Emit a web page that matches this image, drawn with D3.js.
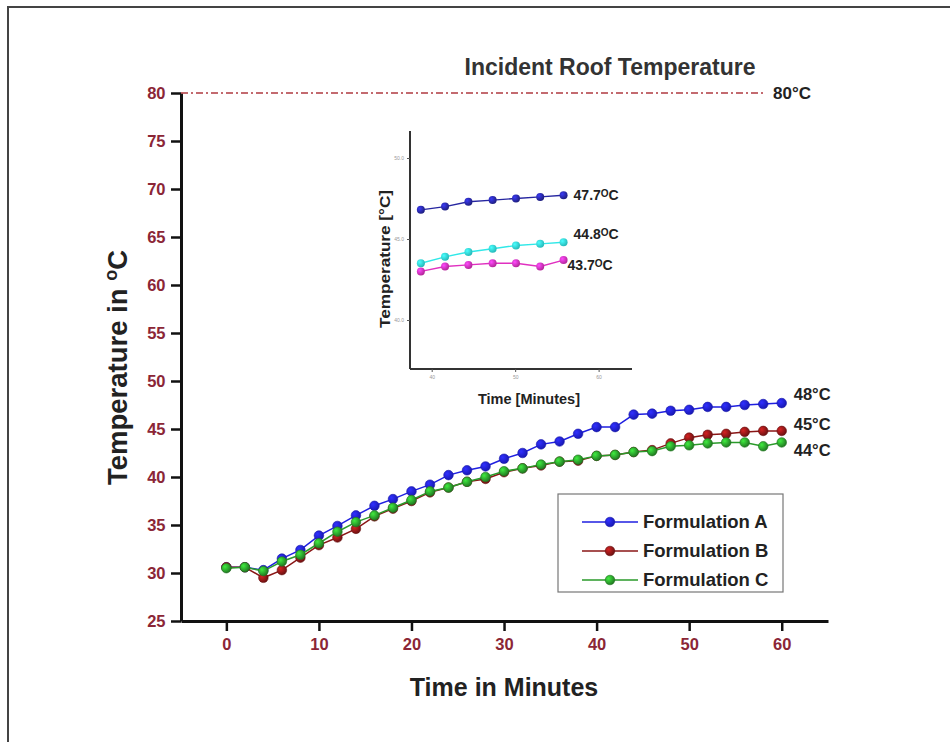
<!DOCTYPE html>
<html>
<head>
<meta charset="utf-8">
<script src="https://cdn.jsdelivr.net/npm/d3@7"></script>
<style>
  body { margin: 0; background: #fff; }
  svg { font-family: "Liberation Sans", Arial, sans-serif; }
</style>
</head>
<body>
<div id="svg-container"></div>
<script>
//////////////////////////////  Data  //////////////////////////////
const times = [0, 2, 4, 6, 8, 10, 12, 14, 16, 18, 20, 22, 24, 26, 28, 30,
  32, 34, 36, 38, 40, 42, 44, 46, 48, 50, 52, 54, 56, 58, 60];
const formulationA = [30.6, 30.6, 30.3, 31.5, 32.4, 33.9, 34.9, 36.0, 37.0, 37.7,
  38.5, 39.2, 40.2, 40.7, 41.1, 41.9, 42.5, 43.4, 43.7, 44.5,
  45.2, 45.2, 46.5, 46.6, 46.9, 47.0, 47.3, 47.3, 47.5, 47.6, 47.7];
const formulationB = [30.6, 30.6, 29.5, 30.3, 31.6, 32.9, 33.7, 34.6, 35.9, 36.7,
  37.5, 38.4, 38.9, 39.5, 39.8, 40.5, 40.9, 41.2, 41.6, 41.7,
  42.2, 42.3, 42.6, 42.8, 43.5, 44.1, 44.4, 44.5, 44.7, 44.8, 44.8];
const formulationC = [30.5, 30.6, 30.2, 31.2, 31.9, 33.1, 34.3, 35.3, 36.0, 36.8,
  37.6, 38.5, 38.9, 39.5, 40.0, 40.6, 40.9, 41.3, 41.6, 41.8,
  42.2, 42.3, 42.6, 42.7, 43.2, 43.3, 43.5, 43.6, 43.6, 43.2, 43.6];
const seriesNames = ["Formulation A", "Formulation B", "Formulation C"];
const endLabels = ["48", "45", "44"];
const xTicks = [0, 10, 20, 30, 40, 50, 60];
const yTicks = [25, 30, 35, 40, 45, 50, 55, 60, 65, 70, 75, 80];
const incidentTemp = 80;

// inset
const insetTimes = [38.7, 41.6, 44.4, 47.3, 50.1, 53.0, 55.8];
const insetBlue = [46.8, 47.0, 47.3, 47.4, 47.5, 47.6, 47.7];
const insetCyan = [43.5, 43.9, 44.2, 44.4, 44.6, 44.7, 44.8];
const insetMagenta = [43.0, 43.3, 43.4, 43.5, 43.5, 43.3, 43.7];
const insetLabels = ["47.7", "44.8", "43.7"];
const insetXTicks = [40, 50, 60];
const insetYTicks = [40, 45, 50];

//////////////////////////////  Init  //////////////////////////////
const width = 950, height = 742;
const margin = { top: 93, right: 122, bottom: 121, left: 181 };

const svg = d3.select("#svg-container").append("svg")
  .attr("width", width).attr("height", height);

const colors = ["#1f1fe0", "#8a1616", "#2a9a2a"];
const tickColor = "#8b2636";

// page frame
svg.append("line").attr("x1", 8).attr("x2", width).attr("y1", 7).attr("y2", 7)
  .attr("stroke", "#444").attr("stroke-width", 2);
svg.append("line").attr("x1", 8).attr("x2", 8).attr("y1", 6).attr("y2", height)
  .attr("stroke", "#444").attr("stroke-width", 2);

// gradients for the ball markers
const defs = svg.append("defs");
colors.concat(["#30e8e8", "#e030c0", "#2626a0"]).forEach((c, i) => {
  const g = defs.append("radialGradient").attr("id", "ball" + i)
    .attr("cx", "35%").attr("cy", "35%").attr("r", "65%");
  g.append("stop").attr("offset", "0%").attr("stop-color", d3.color(c).brighter(1.2));
  g.append("stop").attr("offset", "100%").attr("stop-color", d3.color(c).darker(0.6));
});

// scales
const xScale = d3.scaleLinear().domain([-4.9, 65]).range([margin.left, width - margin.right]);
const yScale = d3.scaleLinear().domain([25, 80]).range([height - margin.bottom, margin.top]);

// axes
const xAxis = d3.axisBottom(xScale).tickValues(xTicks).tickSize(10).tickSizeOuter(0);
const yAxis = d3.axisLeft(yScale).tickValues(yTicks).tickSize(10).tickSizeOuter(0);

const gx = svg.append("g")
  .attr("transform", `translate(0,${height - margin.bottom})`)
  .call(xAxis);
const gy = svg.append("g")
  .attr("transform", `translate(${margin.left},0)`)
  .call(yAxis);

[gx, gy].forEach((g) => {
  g.select(".domain").attr("stroke", "#111").attr("stroke-width", 3);
  g.selectAll(".tick line").attr("stroke", "#111").attr("stroke-width", 2.5);
  g.selectAll(".tick text").attr("fill", tickColor)
    .attr("font-size", 16.5).attr("font-weight", "bold")
    .attr("font-family", "Liberation Sans, Arial, sans-serif");
});
gx.selectAll(".tick text").attr("dy", "0.95em");
gy.selectAll(".tick text").attr("dx", "-0.15em");

// axis titles
svg.append("text")
  .attr("x", xScale(30)).attr("y", 696)
  .attr("text-anchor", "middle").attr("font-size", 25).attr("font-weight", "bold")
  .attr("fill", "#222").text("Time in Minutes");

const yTitle = svg.append("text")
  .attr("transform", `translate(127,${yScale(51.4)}) rotate(-90)`)
  .attr("text-anchor", "middle").attr("font-size", 27.5).attr("font-weight", "bold")
  .attr("fill", "#222");
yTitle.append("tspan").text("Temperature in ");
yTitle.append("tspan").attr("font-size", 18).attr("dy", -10).text("o");
yTitle.append("tspan").attr("dy", 10).text("C");

// incident roof temperature line
svg.append("line")
  .attr("x1", xScale(-4.9)).attr("x2", xScale(58))
  .attr("y1", yScale(incidentTemp)).attr("y2", yScale(incidentTemp))
  .attr("stroke", "#b03a40").attr("stroke-width", 1.3)
  .attr("stroke-dasharray", "7,3,2,3");

svg.append("text")
  .attr("x", 773).attr("y", yScale(incidentTemp) + 6)
  .attr("font-size", 17).attr("font-weight", "bold").attr("fill", "#222")
  .text("80°C");

svg.append("text")
  .attr("x", 610).attr("y", 75)
  .attr("text-anchor", "middle").attr("font-size", 23).attr("font-weight", "bold")
  .attr("fill", "#333").text("Incident Roof Temperature");

// series
const allSeries = [formulationA, formulationB, formulationC];
const line = d3.line().x((d) => xScale(d[0])).y((d) => yScale(d[1]));

allSeries.forEach((vals, i) => {
  const pts = times.map((t, j) => [t, vals[j]]);
  svg.append("path").datum(pts)
    .attr("d", line).attr("fill", "none")
    .attr("stroke", colors[i]).attr("stroke-width", 1.5);
  svg.append("g").selectAll("circle").data(pts).enter().append("circle")
    .attr("cx", (d) => xScale(d[0])).attr("cy", (d) => yScale(d[1]))
    .attr("r", 4.8).attr("fill", `url(#ball${i})`)
    .attr("stroke", d3.color(colors[i]).darker(0.8)).attr("stroke-width", 0.6);
});

// end labels
const endY = [yScale(formulationA[30]) - 3, yScale(formulationB[30]) - 1, yScale(formulationC[30]) + 14];
endLabels.forEach((lab, i) => {
  svg.append("text")
    .attr("x", xScale(61.3)).attr("y", endY[i])
    .attr("font-size", 16.5).attr("font-weight", "bold").attr("fill", "#222")
    .text(lab + "°C");
});

// legend
const legend = svg.append("g").attr("transform", "translate(558,494)");
legend.append("rect").attr("width", 225).attr("height", 98)
  .attr("fill", "#fff").attr("stroke", "#777").attr("stroke-width", 1.2);
seriesNames.forEach((name, i) => {
  const y = 28 + i * 29;
  legend.append("line").attr("x1", 24).attr("x2", 80).attr("y1", y).attr("y2", y)
    .attr("stroke", colors[i]).attr("stroke-width", 1.6);
  legend.append("circle").attr("cx", 52).attr("cy", y).attr("r", 4.8)
    .attr("fill", `url(#ball${i})`)
    .attr("stroke", d3.color(colors[i]).darker(0.8)).attr("stroke-width", 0.6);
  legend.append("text").attr("x", 85).attr("y", y + 6)
    .attr("font-size", 18.5).attr("font-weight", "bold").attr("fill", "#222")
    .text(name);
});

////////////////////////////////////////////////////////////////////
//////////////////////////////  Inset  //////////////////////////////
const ix = d3.scaleLinear().domain([37.4, 64.0]).range([410, 632]);
const iy = d3.scaleLinear().domain([50, 40]).range([158, 320]);
const insetTop = 131, insetBottom = 369;

const inset = svg.append("g");
inset.append("line").attr("x1", 410).attr("x2", 410).attr("y1", insetTop).attr("y2", insetBottom)
  .attr("stroke", "#333").attr("stroke-width", 2);
inset.append("line").attr("x1", 410).attr("x2", 632).attr("y1", insetBottom).attr("y2", insetBottom)
  .attr("stroke", "#333").attr("stroke-width", 2);

inset.append("g").attr("transform", `translate(0,${insetBottom})`)
  .call(d3.axisBottom(ix).tickValues(insetXTicks).tickSize(3).tickSizeOuter(0))
  .call((g) => g.select(".domain").remove())
  .call((g) => g.selectAll(".tick line").attr("stroke", "#555"))
  .call((g) => g.selectAll(".tick text").attr("font-size", 5).attr("fill", "#999"));
inset.append("g").attr("transform", "translate(410,0)")
  .call(d3.axisLeft(iy).tickValues(insetYTicks).tickSize(3).tickSizeOuter(0).tickFormat(d3.format(".1f")))
  .call((g) => g.select(".domain").remove())
  .call((g) => g.selectAll(".tick line").attr("stroke", "#555"))
  .call((g) => g.selectAll(".tick text").attr("font-size", 5).attr("fill", "#999"));

const insetSeries = [insetBlue, insetCyan, insetMagenta];
const insetColors = ["#2626a0", "#30e8e8", "#e030c0"];
const insetBalls = ["ball5", "ball3", "ball4"];
const iline = d3.line().x((d) => ix(d[0])).y((d) => iy(d[1]));
insetSeries.forEach((vals, i) => {
  const pts = insetTimes.map((t, j) => [t, vals[j]]);
  inset.append("path").datum(pts).attr("d", iline).attr("fill", "none")
    .attr("stroke", insetColors[i]).attr("stroke-width", 1.4);
  inset.append("g").selectAll("circle").data(pts).enter().append("circle")
    .attr("cx", (d) => ix(d[0])).attr("cy", (d) => iy(d[1]))
    .attr("r", 4).attr("fill", `url(#${insetBalls[i]})`);
});

const insetLabelDy = [5, -3, 10];
insetLabels.forEach((lab, i) => {
  const vals = insetSeries[i];
  const t = inset.append("text")
    .attr("x", ix(insetTimes[6]) + (i === 2 ? 4 : 10))
    .attr("y", iy(vals[6]) + insetLabelDy[i])
    .attr("font-size", 14).attr("font-weight", "bold").attr("fill", "#222");
  t.append("tspan").text(lab);
  t.append("tspan").attr("font-size", 10).attr("dy", -3).text("O");
  t.append("tspan").attr("dy", 3).text("C");
});

inset.append("text")
  .attr("x", 529).attr("y", 404)
  .attr("text-anchor", "middle").attr("font-size", 14.5).attr("font-weight", "bold")
  .attr("fill", "#222").text("Time [Minutes]");
inset.append("text")
  .attr("transform", "translate(390,259) rotate(-90)")
  .attr("text-anchor", "middle").attr("font-size", 15.5).attr("font-weight", "bold")
  .attr("textLength", 138).attr("lengthAdjust", "spacingAndGlyphs")
  .attr("fill", "#222").text("Temperature [°C]");
</script>
</body>
</html>
